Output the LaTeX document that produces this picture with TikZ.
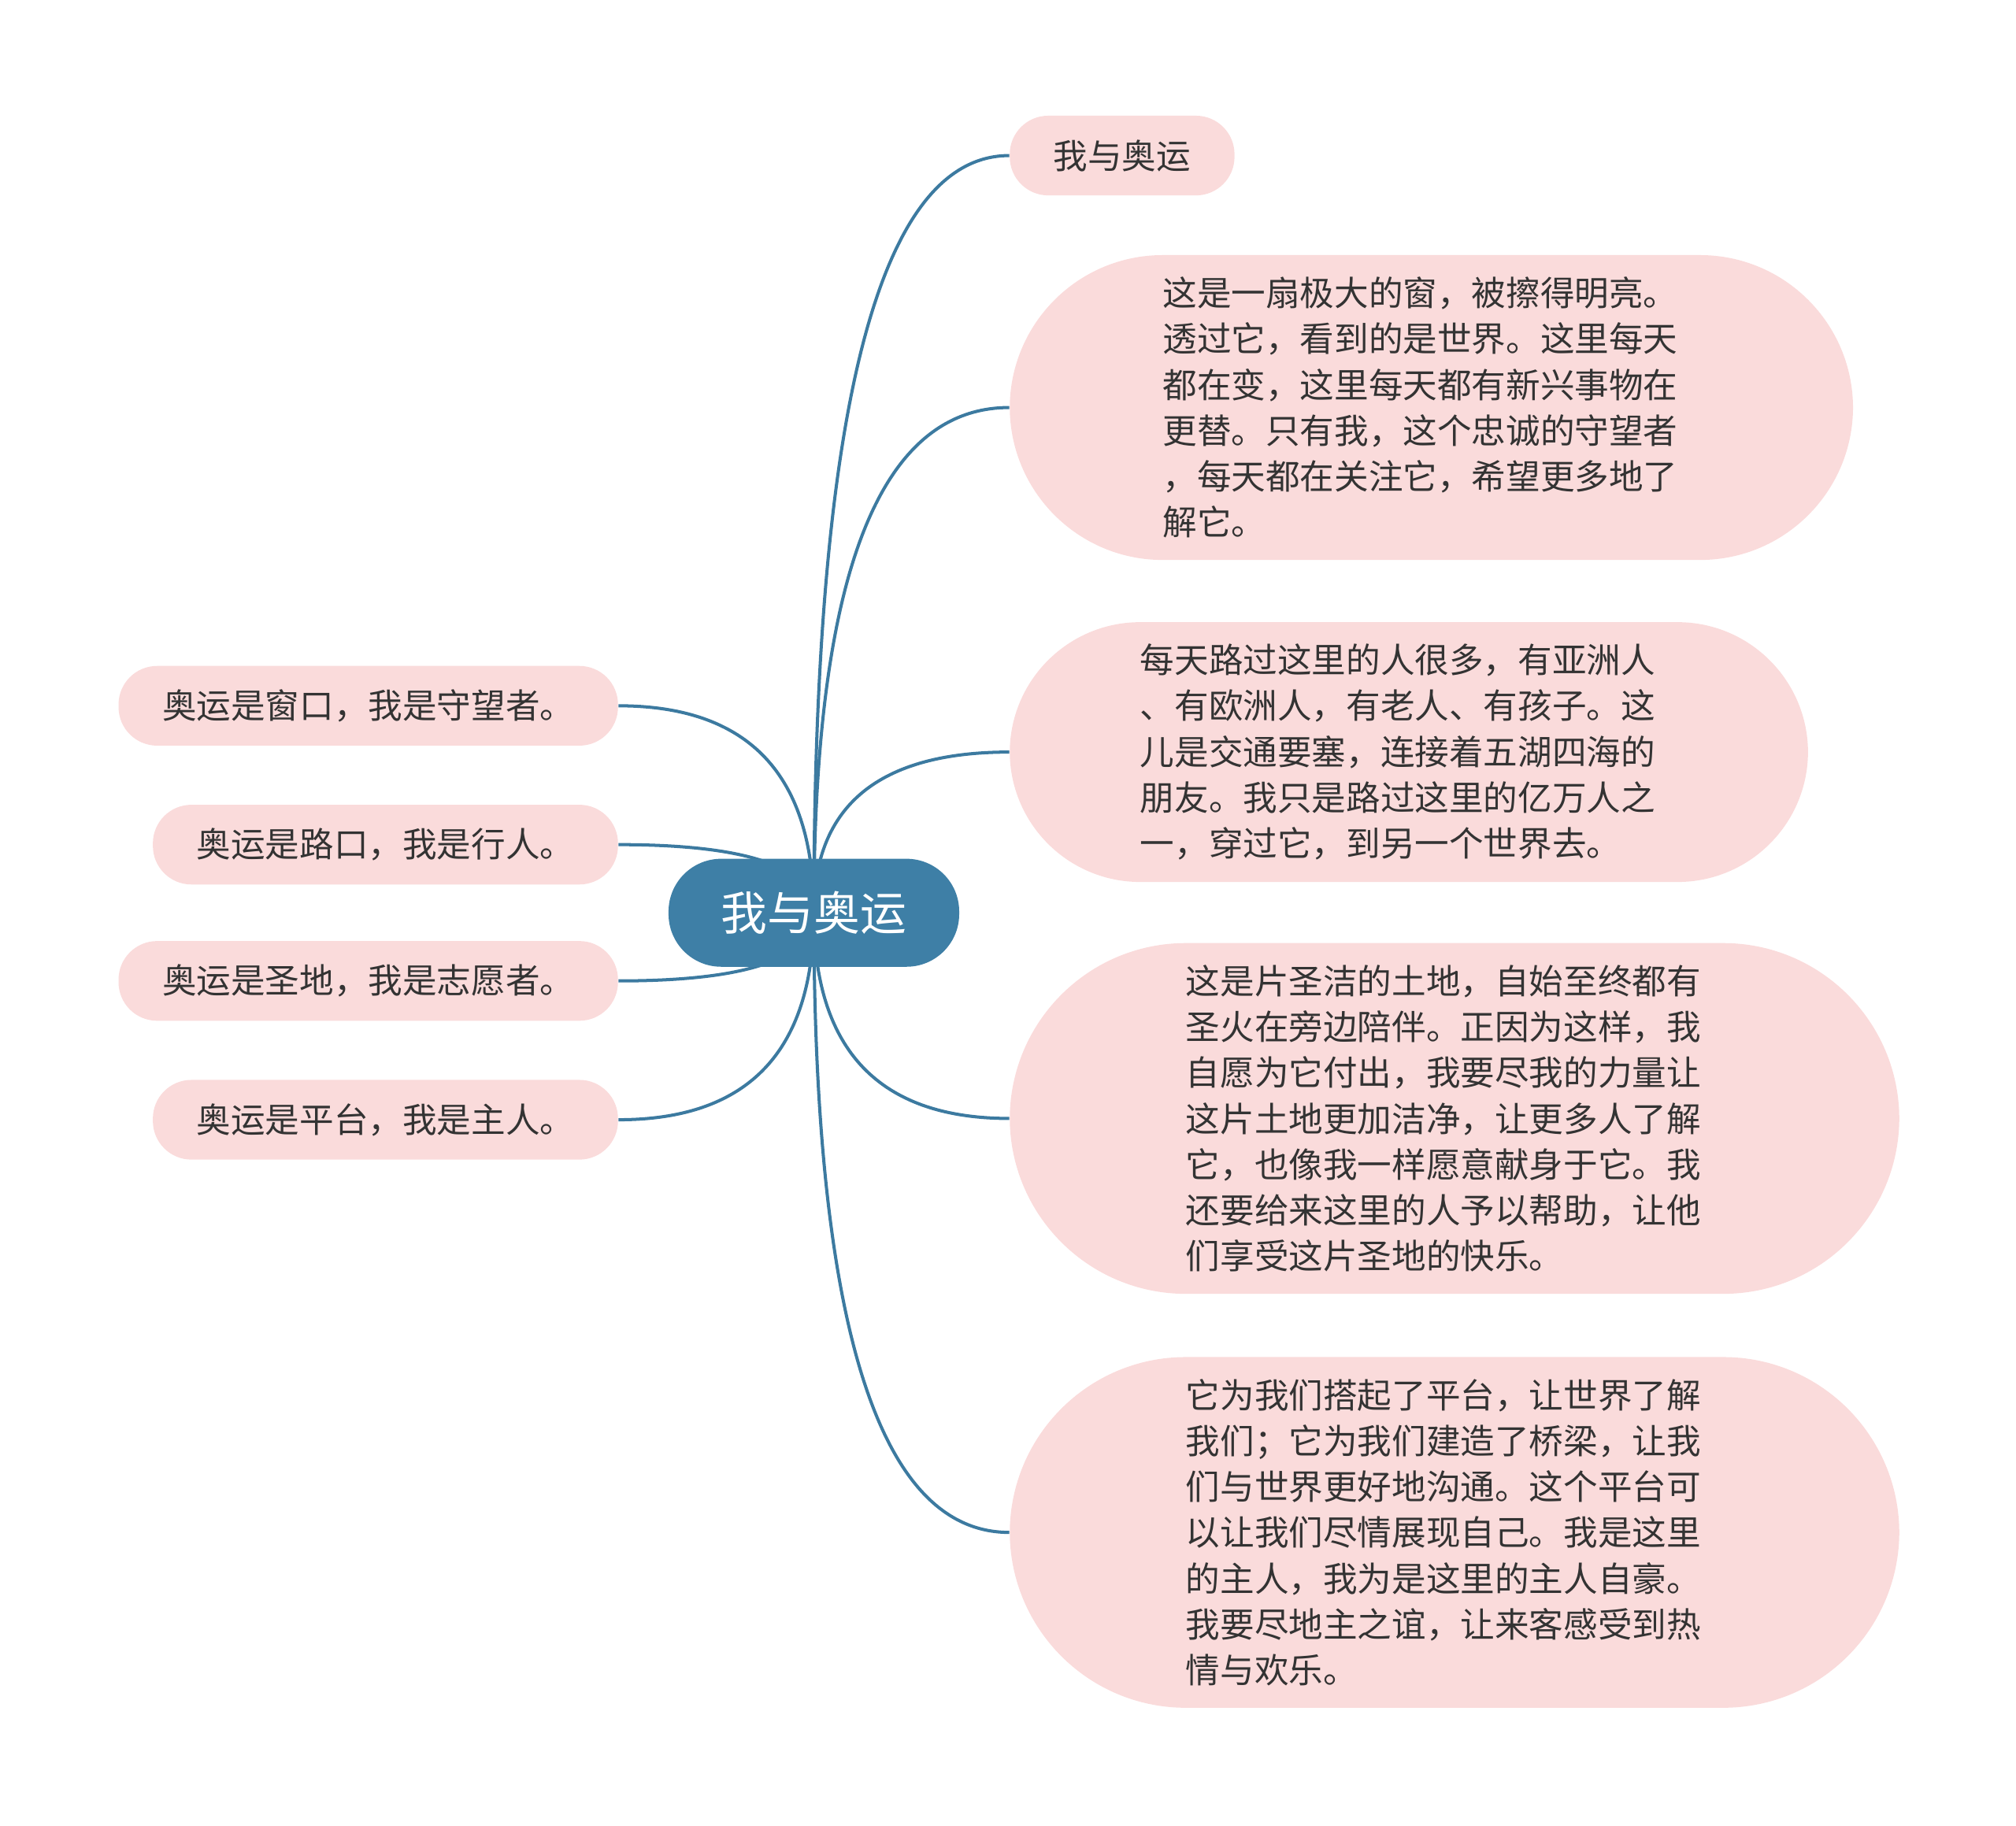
\documentclass[tikz,border=0pt]{standalone}
\usepackage{fontspec}
\setmainfont{Noto Sans CJK SC}
\usetikzlibrary{positioning,backgrounds,calc}

\definecolor{rootblue}{HTML}{3E7FA6}
\definecolor{linkblue}{HTML}{3C7AA0}
\definecolor{leafpink}{HTML}{FADBDB}
\definecolor{leaftext}{HTML}{333333}

\begin{document}
\begin{tikzpicture}[
    x=0.02cm, y=-0.02cm,
    rootbox/.style={rectangle, rounded corners=0.82cm, fill=rootblue, text=white, minimum height=1.68cm,
                    inner xsep=0.82cm, font=\fontsize{20.5pt}{24pt}\selectfont},
    leafbox/.style={rectangle, rounded corners=0.6cm, fill=leafpink, text=leaftext, minimum height=1.24cm,
                    inner xsep=0.68cm, font=\fontsize{15.2pt}{20.3pt}\selectfont},
    textbox/.style={leafbox, text width=8.36cm, align=left, inner xsep=#1, inner ysep=0.34cm,
                    rounded corners=#1},
    branch/.style={draw=linkblue, line width=1.4pt,
                   to path={.. controls ($(\tikztostart)!0.667!(\tikztostart |- \tikztotarget)$)
                            and ($(\tikztotarget)!0.667!(\tikztostart |- \tikztotarget)$) .. (\tikztotarget)}}
]
\useasboundingbox (0,0) rectangle (1568,1420);

% Root
\node[rootbox] (root) at (633,710) {我与奥运};

% Right branches
\node[leafbox, anchor=west] (topic) at (785,121) {我与奥运};
\node[textbox=2.38cm, anchor=west] (windowtxt) at (785,317) {这是一扇极大的窗，被擦得明亮。\\透过它，看到的是世界。这里每天\\都在变，这里每天都有新兴事物在\\更替。只有我，这个忠诚的守望者\\，每天都在关注它，希望更多地了\\解它。};
\node[textbox=2.03cm, anchor=west] (roadtxt) at (785,585) {每天路过这里的人很多，有亚洲人\\、有欧洲人，有老人、有孩子。这\\儿是交通要塞，连接着五湖四海的\\朋友。我只是路过这里的亿万人之\\一，穿过它，到另一个世界去。};
\node[textbox=2.74cm, anchor=west] (landtxt) at (785,870) {这是片圣洁的土地，自始至终都有\\圣火在旁边陪伴。正因为这样，我\\自愿为它付出，我要尽我的力量让\\这片土地更加洁净，让更多人了解\\它，也像我一样愿意献身于它。我\\还要给来这里的人予以帮助，让他\\们享受这片圣地的快乐。};
\node[textbox=2.74cm, anchor=west] (stagetxt) at (785,1192) {它为我们搭起了平台，让世界了解\\我们；它为我们建造了桥梁，让我\\们与世界更好地沟通。这个平台可\\以让我们尽情展现自己。我是这里\\的主人，我为是这里的主人自豪。\\我要尽地主之谊，让来客感受到热\\情与欢乐。};

% Left branches
\node[leafbox, anchor=east] (window) at (481,549) {奥运是窗口，我是守望者。};
\node[leafbox, anchor=east] (road) at (481,657) {奥运是路口，我是行人。};
\node[leafbox, anchor=east] (land) at (481,763) {奥运是圣地，我是志愿者。};
\node[leafbox, anchor=east] (stage) at (481,871) {奥运是平台，我是主人。};

% Connectors
\begin{scope}[on background layer]
\draw[branch] (root.center) to (topic.west);
\draw[branch] (root.center) to (windowtxt.west);
\draw[branch] (root.center) to (roadtxt.west);
\draw[branch] (root.center) to (landtxt.west);
\draw[branch] (root.center) to (stagetxt.west);
\draw[branch] (root.center) to (window.east);
\draw[branch] (root.center) to (road.east);
\draw[branch] (root.center) to (land.east);
\draw[branch] (root.center) to (stage.east);
\end{scope}

\end{tikzpicture}
\end{document}
